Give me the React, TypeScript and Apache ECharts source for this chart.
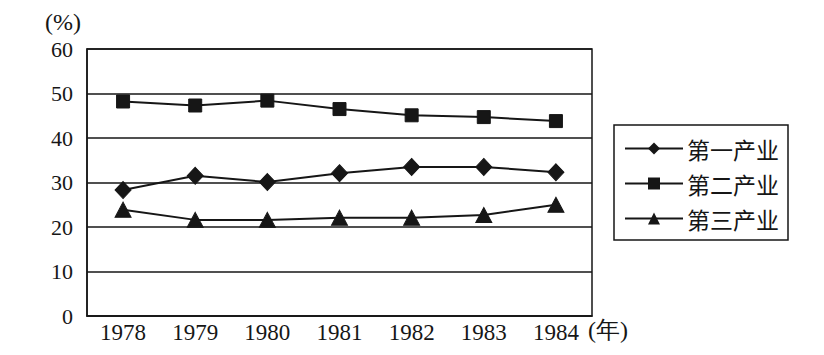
import React, { useEffect, useRef } from "react";
import * as echarts from "echarts";

const years = ["1978", "1979", "1980", "1981", "1982", "1983", "1984"];
const primary = [28.3, 31.5, 30.1, 32.1, 33.5, 33.5, 32.3];
const secondary = [48.2, 47.3, 48.4, 46.5, 45.1, 44.7, 43.8];
const tertiary = [23.9, 21.6, 21.6, 22.1, 22.1, 22.7, 25.0];
const seriesNames = ["第一产业", "第二产业", "第三产业"];
const yTicks = { min: 0, max: 60, interval: 10 };

const SERIF = "'Liberation Serif', 'DejaVu Serif', serif";
const CJK = "'Noto Sans CJK SC', sans-serif";
const INK = "#161616";

export default function App() {
  const ref = useRef<HTMLDivElement>(null);
  useEffect(() => {
    document.body.style.margin = "0";
    const chart = echarts.init(ref.current!, null, { renderer: "svg" });
    const mk = (name: string, data: number[], symbol: string, size: number | number[]) => ({
      name,
      type: "line",
      data,
      symbol,
      symbolSize: size,
      showAllSymbol: true,
      lineStyle: { color: INK, width: 2 },
      itemStyle: { color: INK, borderColor: INK },
      emphasis: { disabled: true },
    });
    chart.setOption({
      animation: false,
      backgroundColor: "#ffffff",
      grid: {
        left: 87,
        top: 49,
        width: 505,
        height: 267,
        show: true,
        borderColor: INK,
        borderWidth: 1.5,
        backgroundColor: "transparent",
      },
      legend: {
        orient: "vertical",
        left: 614,
        top: 125,
        padding: [12, 9, 10, 10],
        itemGap: 12,
        itemWidth: 58,
        itemHeight: 15,
        borderColor: INK,
        borderWidth: 1.5,
        textStyle: { fontFamily: CJK, fontSize: 23, color: INK, padding: [0, 0, 0, -1] },
        data: seriesNames,
      },
      xAxis: {
        type: "category",
        data: years,
        boundaryGap: true,
        axisLine: { lineStyle: { color: INK, width: 1.5 } },
        axisTick: { inside: true, length: 6, lineStyle: { color: INK, width: 1 } },
        axisLabel: { fontFamily: SERIF, fontSize: 23, color: INK, margin: 5 },
        splitLine: { show: false },
      },
      yAxis: {
        type: "value",
        min: yTicks.min,
        max: yTicks.max,
        interval: yTicks.interval,
        axisLine: { show: true, lineStyle: { color: INK, width: 1.5 } },
        axisTick: { show: false },
        axisLabel: { fontFamily: SERIF, fontSize: 22, color: INK, margin: 14 },
        splitLine: { show: true, lineStyle: { color: INK, width: 1.5 } },
      },
      graphic: [
        {
          type: "text",
          left: 45,
          top: 10,
          style: { text: "(%)", fontFamily: SERIF, fontSize: 24, fill: INK },
        },
        {
          type: "text",
          left: 588,
          top: 318,
          style: { text: "(年)", fontFamily: SERIF, fontSize: 24, fill: INK },
        },
      ],
      series: [
        mk(seriesNames[0], primary, "diamond", [16, 17]),
        mk(seriesNames[1], secondary, "rect", 13),
        mk(seriesNames[2], tertiary, "triangle", [16, 15]),
      ],
    });
    return () => chart.dispose();
  }, []);
  return <div ref={ref} style={{ width: 824, height: 355 }} />;
}
